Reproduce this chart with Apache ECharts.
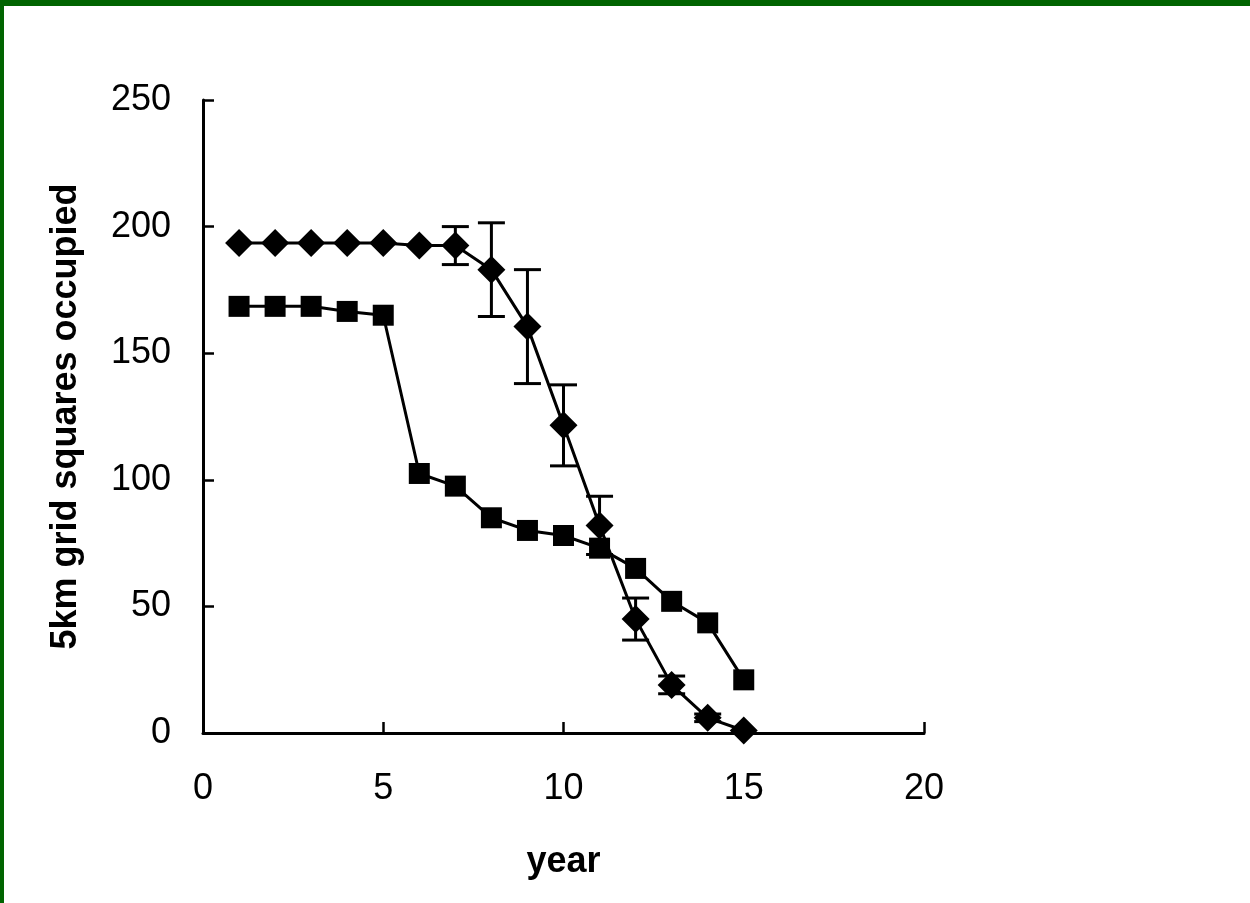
<!DOCTYPE html>
<html>
<head>
<meta charset="utf-8">
<script src="https://cdn.jsdelivr.net/npm/echarts@6/dist/echarts.min.js"></script>
<style>
  html, body { margin: 0; padding: 0; background: #fff; }
  #chart { width: 1250px; height: 903px; }
</style>
</head>
<body>
<div id="chart"></div>
<script>
const years = [1, 2, 3, 4, 5, 6, 7, 8, 9, 10, 11, 12, 13, 14, 15];
// diamonds: simulated occupancy with error bars
const diamondValues = [193.5, 193.5, 193.5, 193.5, 193.5, 192.5, 192.5, 183, 160.5, 121.5, 82, 45, 19, 6, 1];
const diamondErrors = [0, 0, 0, 0, 0, 0, 7.5, 18.5, 22.5, 16, 11.5, 8.3, 3.5, 1.5, 0];
// squares: observed occupancy
const squareValues = [168.5, 168.5, 168.5, 166.5, 165, 102.5, 97.5, 85, 80, 78, 73, 65, 52, 43.5, 21];

const font = "'Liberation Sans', Arial, sans-serif";
const chart = echarts.init(document.getElementById('chart'));

const errorData = years.map((x, i) => [x, diamondValues[i] - diamondErrors[i], diamondValues[i] + diamondErrors[i]]);

const option = {
  backgroundColor: '#fff',
  animation: false,
  graphic: [
    { type: 'rect', shape: { x: 0, y: 0, width: 1250, height: 6 }, style: { fill: '#006400' }, z: 100 },
    { type: 'rect', shape: { x: 0, y: 0, width: 4, height: 903 }, style: { fill: '#006400' }, z: 100 }
  ],
  grid: { left: 203, right: 326, top: 100, bottom: 170 },
  xAxis: {
    type: 'value',
    min: 0,
    max: 20,
    interval: 5,
    name: 'year',
    nameLocation: 'middle',
    nameGap: 111,
    nameTextStyle: { fontFamily: font, fontSize: 36, fontWeight: 'bold', color: '#000' },
    axisLine: { lineStyle: { color: '#000', width: 3 } },
    axisTick: { inside: true, length: 11, lineStyle: { color: '#000', width: 2.5 } },
    axisLabel: { fontFamily: font, fontSize: 36, color: '#000', margin: 38 },
    splitLine: { show: false }
  },
  yAxis: {
    type: 'value',
    min: 0,
    max: 250,
    interval: 50,
    name: '5km grid squares occupied',
    nameLocation: 'middle',
    nameRotate: 90,
    nameGap: 119,
    nameTextStyle: { fontFamily: font, fontSize: 36, fontWeight: 'bold', color: '#000' },
    axisLine: { show: true, lineStyle: { color: '#000', width: 3 } },
    axisTick: { show: true, inside: true, length: 11, lineStyle: { color: '#000', width: 2.5 } },
    axisLabel: { fontFamily: font, fontSize: 36, color: '#000', margin: 32 },
    splitLine: { show: false }
  },
  series: [
    {
      name: 'observed',
      type: 'line',
      data: years.map((x, i) => [x, squareValues[i]]),
      symbol: 'rect',
      symbolSize: 21,
      itemStyle: { color: '#000' },
      lineStyle: { color: '#000', width: 3 },
      z: 3
    },
    {
      name: 'errors',
      type: 'custom',
      data: errorData,
      renderItem: (params, api) => {
        const x = api.value(0);
        const lo = api.coord([x, api.value(1)]);
        const hi = api.coord([x, api.value(2)]);
        if (api.value(2) - api.value(1) <= 0) return null;
        const hw = 13.5;
        const style = { stroke: '#000', lineWidth: 3 };
        return {
          type: 'group',
          children: [
            { type: 'line', shape: { x1: hi[0], y1: hi[1], x2: lo[0], y2: lo[1] }, style },
            { type: 'line', shape: { x1: hi[0] - hw, y1: hi[1], x2: hi[0] + hw, y2: hi[1] }, style },
            { type: 'line', shape: { x1: lo[0] - hw, y1: lo[1], x2: lo[0] + hw, y2: lo[1] }, style }
          ]
        };
      },
      z: 4
    },
    {
      name: 'simulated',
      type: 'line',
      data: years.map((x, i) => [x, diamondValues[i]]),
      symbol: 'diamond',
      symbolSize: 28,
      itemStyle: { color: '#000' },
      lineStyle: { color: '#000', width: 3 },
      z: 5
    }
  ]
};

chart.setOption(option);
</script>
</body>
</html>
